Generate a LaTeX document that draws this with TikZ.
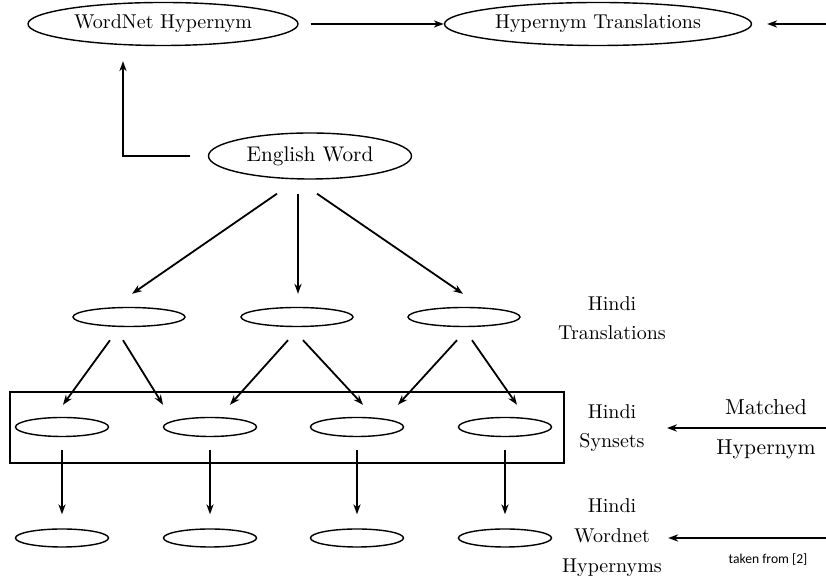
\documentclass[tikz,border=0pt]{standalone}
\usepackage{fontspec}
\newfontfamily\calibfont{Carlito}
\usetikzlibrary{arrows.meta,calc,shapes.geometric}

\tikzset{
  arr/.style={-{Stealth[length=5pt,width=3.6pt]}, line width=0.9pt},
  bigell/.style={ellipse, draw, line width=0.7pt, inner sep=0pt, minimum height=21.5pt},
  smallell/.style={ellipse, draw, line width=0.7pt, inner sep=0pt, minimum width=46.5pt, minimum height=9.5pt},
  sidelabel/.style={align=center, inner sep=0pt, font=\fontsize{10}{14.5}\selectfont},
}

\begin{document}
\begin{tikzpicture}[x=0.5pt,y=-0.5pt]
\useasboundingbox (0,0) rectangle (826,581);
% top row
\node[bigell, minimum width=135pt] (wh) at (163,24) {WordNet Hypernym};
\node[bigell, minimum width=153.5pt] (ht) at (598,24) {Hypernym Translations};
\node[bigell, minimum width=101.5pt, minimum height=23pt, font=\fontsize{10.6}{12}\selectfont] (ew) at (310,156) {English Word};
% rows of empty ellipses
\foreach \n/\x in {1/129,2/297,3/464}
  \node[smallell, minimum width=56pt] (t\n) at (\x,317) {};
\foreach \n/\x in {1/62,2/210,3/357,4/505} {
  \node[smallell] (s\n) at (\x,427) {};
  \node[smallell, minimum height=9pt] (h\n) at (\x,538) {};
}
\draw[line width=0.9pt] (10,392) rectangle (564,463);
% labels on the right
\node[sidelabel] (trl) at (612,318) {Hindi\\Translations};
\node[sidelabel] (syl) at (612,428) {Hindi\\Synsets};
\node[sidelabel, font=\fontsize{10}{15}\selectfont] (hyl) at (612,538) {Hindi\\Wordnet\\Hypernyms};
\node[font=\fontsize{10.8}{13}\selectfont] (mt) at (766,407) {Matched};
\node[font=\fontsize{10.8}{13}\selectfont] (mh) at (766,449) {Hypernym};
\node[font=\calibfont\fontsize{6.8}{8}\selectfont] (src) at (768,560) {taken from [2]};
\coordinate (e1) at (826,24);
\coordinate (e2) at (826,428);
\coordinate (e3) at (826,538);
% arrows
\draw[arr, shorten <=6pt] (wh) -- (ht);
\draw[arr, shorten >=7.5pt] (e1) -- (ht);
\draw[arr, shorten <=9pt, shorten >=7.5pt] (ew.west) -| ([xshift=-20pt]wh.south);
\draw[arr] ($(ew.south)+(-33,14)$) -- ($(t1.north)+(3,-13)$);
\draw[arr] ($(ew.south)+(-12,14)$) -- ($(t2.north)+(1,-13)$);
\draw[arr] ($(ew.south)+(7,14)$) -- ($(t3.north)+(-1,-13)$);
\foreach \a/\da/\b/\db in {t1/-19/s1/1, t1/-6/s2/-47, t2/-9/s2/20,
                           t2/6/s3/6, t3/-7/s3/41, t3/8/s4/12}
  \draw[arr] ($(\a.south)+(\da,13)$) -- ($(\b.north)+(\db,-12)$);
\foreach \n in {1,...,4}
  \draw[arr, shorten <=6.5pt, shorten >=7pt] (s\n) -- (h\n);
\draw[arr, shorten >=11pt] (e2) -- (syl);
\draw[arr, shorten >=3pt] (e3) -- (hyl);
\end{tikzpicture}
\end{document}
